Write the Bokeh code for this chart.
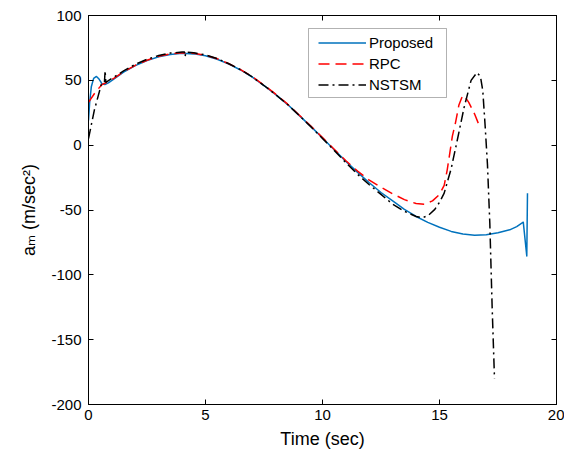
from bokeh.plotting import figure
from bokeh.models import (Range1d, LinearAxis, FixedTicker, Legend, LegendItem,
                          BoxAnnotation)
from bokeh.embed import file_html
from bokeh.resources import INLINE

# ---------------- data ----------------
x_ticks = [0, 5, 10, 15, 20]
x_tick_labels = ["0", "5", "10", "15", "20"]
y_ticks = [-200, -150, -100, -50, 0, 50, 100]
y_tick_labels = ["-200", "-150", "-100", "-50", "0", "50", "100"]

x_title = "Time (sec)"
y_title = "a\u2098 (m/sec\u00b2)"
series_names = ["Proposed", "RPC", "NSTSM"]

t_proposed = [0.0, 0.05, 0.12, 0.22, 0.34, 0.45, 0.58, 0.7, 0.85, 1.08, 1.5, 2.0,
              2.5, 3.0, 3.5, 4.0, 4.5, 5.0, 5.5, 6.0, 6.5, 7.0, 7.5, 8.0, 8.5,
              9.0, 9.5, 10.0, 10.5, 11.0, 11.5, 12.0, 12.5, 13.0, 13.5, 14.0,
              14.5, 15.0, 15.5, 16.0, 16.5, 17.0, 17.5, 18.0, 18.3, 18.58,
              18.73, 18.76]
a_proposed = [19.0, 33.0, 45.0, 51.5, 53.0, 51.0, 47.3, 46.8, 48.0, 51.0, 56.3,
              61.3, 65.2, 68.2, 70.0, 70.8, 70.4, 69.0, 66.3, 62.5, 58.0, 52.5,
              46.0, 39.0, 31.5, 23.0, 14.5, 5.5, -3.5, -12.5, -21.0, -29.0,
              -36.5, -43.0, -49.5, -55.0, -59.5, -63.3, -66.5, -68.5, -69.5,
              -69.0, -67.5, -65.3, -62.8, -59.4, -85.5, -37.0]

t_rpc = [0.0, 0.3, 0.58, 0.8, 1.08, 1.5, 2.0, 2.5, 3.0, 3.5, 4.0, 4.5, 5.0, 5.5,
         6.0, 6.5, 7.0, 7.5, 8.0, 8.5, 9.0, 9.5, 10.0, 10.5, 11.0, 11.5, 12.0,
         12.5, 13.0, 13.5, 14.0, 14.35, 14.7, 15.0, 15.2, 15.33, 15.45, 15.55,
         15.68, 15.83, 15.95, 16.05, 16.25, 16.5, 16.7]
a_rpc = [33.0, 41.0, 46.8, 48.5, 51.5, 56.6, 61.6, 65.5, 68.5, 70.4, 71.2, 70.8,
         69.4, 66.7, 62.8, 58.3, 52.8, 46.3, 39.3, 31.8, 23.3, 14.8, 5.8, -3.2,
         -12.0, -20.0, -27.0, -32.5, -37.5, -42.0, -45.0, -45.5, -43.0, -38.0,
         -31.0, -19.0, -5.0, 7.0, 17.0, 31.0, 36.5, 38.5, 33.0, 24.0, 15.0]

t_nstsm = [0.0, 0.25, 0.55, 0.68, 0.71, 0.74, 1.0, 1.5, 2.0, 2.5, 3.0, 3.5, 4.0,
           4.1, 4.13, 4.16, 4.5, 5.0, 5.5, 6.0, 6.5, 7.0, 7.5, 8.0, 8.5, 9.0,
           9.5, 10.0, 10.5, 11.0, 11.5, 12.0, 12.5, 13.0, 13.5, 14.0, 14.25,
           14.5, 14.8, 15.0, 15.2, 15.5, 15.75, 16.05, 16.35, 16.6, 16.75,
           16.85, 16.95, 17.05, 17.15, 17.25, 17.35]
a_nstsm = [5.0, 27.0, 47.0, 48.0, 57.5, 48.5, 51.5, 57.3, 62.3, 66.2, 69.2,
           71.0, 71.8, 71.8, 68.3, 71.8, 71.2, 69.6, 66.8, 62.8, 58.2, 52.6,
           46.0, 39.0, 31.5, 23.0, 14.3, 5.2, -4.0, -13.5, -22.5, -30.5, -38.0,
           -45.5, -51.0, -55.0, -56.0, -54.5, -49.5, -44.0, -37.0, -18.0, 3.0,
           29.0, 50.0, 56.0, 53.0, 42.0, 15.0, -15.0, -60.0, -125.0, -180.0]

# ---------------- figure ----------------
FONT = "Liberation Sans"
LABEL_FONT = "Liberation Sans, DejaVu Sans, sans-serif"
W, H = 564, 458
FL, FT, FR, FB = 88, 15, 556, 404   # frame edges in page pixels
X0, X1, Y0, Y1 = 0, 20, -200, 100

p = figure(width=W, height=H, output_backend="svg", toolbar_location=None,
           x_range=Range1d(X0, X1), y_range=Range1d(Y0, Y1),
           x_axis_location=None, y_axis_location=None,
           min_border_left=FL, min_border_right=W - FR, min_border_top=FT,
           min_border_bottom=H - FB)
p.grid.visible = False
p.outline_line_color = "black"
p.outline_line_width = 1
p.background_fill_color = "white"
p.border_fill_color = "white"


def make_axis(ticks, labels, show):
    ax = LinearAxis(ticker=FixedTicker(ticks=ticks),
                    major_label_overrides={t: l for t, l in zip(ticks, labels)},
                    major_tick_in=5, major_tick_out=0,
                    minor_tick_line_color=None,
                    axis_line_color="black", major_tick_line_color="black",
                    major_label_text_font=FONT,
                    major_label_text_color="black")
    if show:
        ax.major_label_text_font_size = "15px"
    else:
        ax.major_label_text_font_size = "0px"
        ax.major_label_text_color = None
        ax.major_label_standoff = 0
    return ax


def style_title(ax, text, standoff):
    ax.axis_label = text
    ax.axis_label_text_font = LABEL_FONT
    ax.axis_label_text_font_size = "18px"
    ax.axis_label_text_font_style = "normal"
    ax.axis_label_text_color = "black"
    ax.axis_label_standoff = standoff


xb = make_axis(x_ticks, x_tick_labels, True)
xb.major_label_standoff = 5
style_title(xb, x_title, 6)
p.add_layout(xb, "below")

yl = make_axis(y_ticks, y_tick_labels, True)
yl.major_label_standoff = 7
style_title(yl, y_title, 9)
p.add_layout(yl, "left")

p.add_layout(make_axis(x_ticks, x_tick_labels, False), "above")
p.add_layout(make_axis(y_ticks, y_tick_labels, False), "right")

r1 = p.line(t_proposed, a_proposed, line_color="#0072BD", line_width=1.5,
            line_join="round")
r2 = p.line(t_rpc, a_rpc, line_color="#FF0000", line_width=1.5,
            line_dash="11 6", line_join="round")
r3 = p.line(t_nstsm, a_nstsm, line_color="black", line_width=1.5,
            line_dash="10 4 2 4", line_join="round")

# legend box and legend
p.add_layout(BoxAnnotation(left=308 - FL, right=446 - FL, top=FB - 28,
                           bottom=FB - 97, left_units="screen",
                           right_units="screen", top_units="screen",
                           bottom_units="screen", fill_color="white",
                           fill_alpha=1, line_color="black", line_width=1))

legend = Legend(items=[LegendItem(label=series_names[0], renderers=[r1]),
                       LegendItem(label=series_names[1], renderers=[r2]),
                       LegendItem(label=series_names[2], renderers=[r3])],
                location=(318 - FL, FB - 94.5), padding=0, margin=0,
                spacing=0, glyph_width=48, glyph_height=21, label_height=21,
                label_standoff=3, label_text_font=FONT,
                label_text_font_size="15px", label_text_color="black",
                border_line_color=None, background_fill_alpha=0)
p.add_layout(legend)

open("out.html", "w").write(file_html(p, INLINE))
